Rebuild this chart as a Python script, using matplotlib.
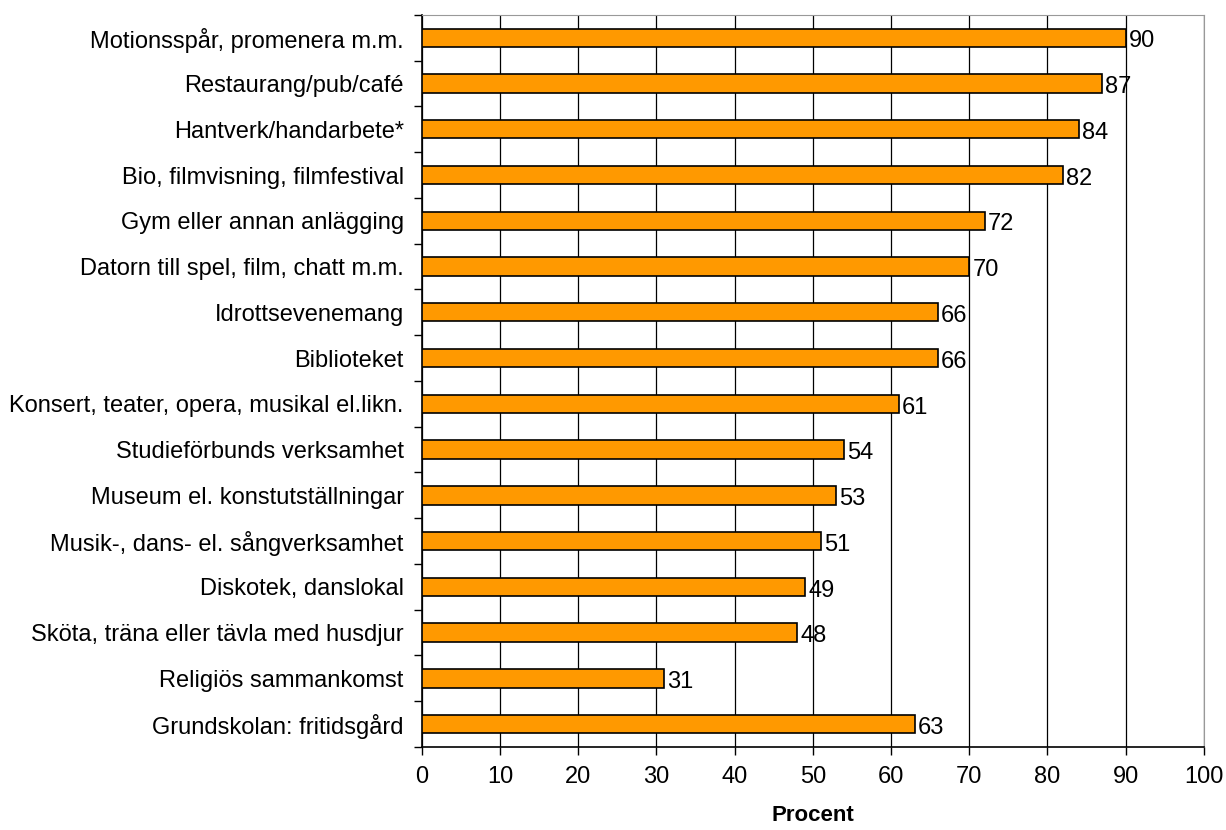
import numpy as np
import matplotlib.pyplot as plt

plt.rcParams['font.family'] = ['Liberation Sans', 'DejaVu Sans']

categories = [
    'Motionsspår, promenera m.m.',
    'Restaurang/pub/café',
    'Hantverk/handarbete*',
    'Bio, filmvisning, filmfestival',
    'Gym eller annan anlägging',
    'Datorn till spel, film, chatt m.m.',
    'Idrottsevenemang',
    'Biblioteket',
    'Konsert, teater, opera, musikal el.likn.',
    'Studieförbunds verksamhet',
    'Museum el. konstutställningar',
    'Musik-, dans- el. sångverksamhet',
    'Diskotek, danslokal',
    'Sköta, träna eller tävla med husdjur',
    'Religiös sammankomst',
    'Grundskolan: fritidsgård',
]
values = [90, 87, 84, 82, 72, 70, 66, 66, 61, 54, 53, 51, 49, 48, 31, 63]
xticks = list(range(0, 101, 10))

fs = 17

fig = plt.figure(figsize=(12.26, 8.3), dpi=100)
ax = fig.add_axes([0.344, 0.1, 0.638, 0.882])

y = np.arange(len(categories))
ax.barh(y, values, height=0.4, color='#FF9900', edgecolor='black', linewidth=1.2, zorder=3)

for yi, v in zip(y, values):
    ax.text(v + 0.4, yi + 0.08, str(v), va='center', ha='left', fontsize=fs, zorder=4)

ax.set_xlim(0, 100)
ax.set_ylim(len(categories) - 0.5, -0.5)
ax.set_xticks(xticks)
ax.set_xticklabels([str(t) for t in xticks], fontsize=fs)
ax.set_yticks(y)
ax.set_yticklabels(categories, fontsize=fs)
ax.set_yticks(np.arange(-0.5, len(categories), 1), minor=True)
ax.tick_params(axis='y', which='major', length=0, pad=13)
ax.tick_params(axis='y', which='minor', length=6, width=1, color='black')
ax.tick_params(axis='x', length=6, width=1, pad=8)

ax.grid(axis='x', color='black', linewidth=0.9, zorder=0)
ax.spines['left'].set_linewidth(1.2)
ax.spines['bottom'].set_linewidth(1.2)
ax.spines['top'].set_color('#999999')
ax.spines['right'].set_color('#999999')

ax.set_xlabel('Procent', fontsize=fs - 1, fontweight='bold', labelpad=12)

fig.savefig('out.png', dpi=100)
